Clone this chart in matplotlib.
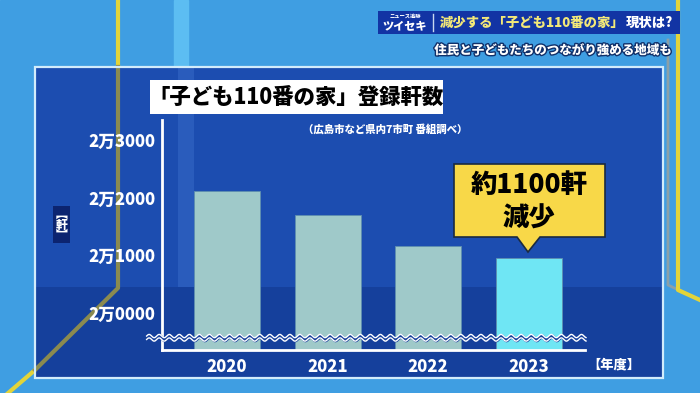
import numpy as np
import matplotlib
matplotlib.use("Agg")
import matplotlib.pyplot as plt
from matplotlib.patches import Rectangle, Polygon
import matplotlib.patheffects as pe

plt.rcParams['font.family'] = ['Noto Sans CJK JP', 'DejaVu Sans']
W = 900  # heaviest available weight

# data
years = ["2020", "2021", "2022", "2023"]
counts = [22120, 21700, 21170, 20960]
yticks = [20000, 21000, 22000, 23000]
ytick_labels = ["2万0000", "2万1000", "2万2000", "2万3000"]
bar_colors = ["#9fc9c9", "#9fc9c9", "#9fc9c9", "#6fe6f4"]

title = "「子ども110番の家」登録軒数"
source = "（広島市など県内7市町 番組調べ）"
callout_top = "約1100軒"
callout_bottom = "減少"
banner_main = "減少する「子ども110番の家」"
banner_tail = "現状は?"
banner_sub = "住民と子どもたちのつながり強める地域も"

fig = plt.figure(figsize=(7, 3.93), dpi=100)

# background in pixel coords
bg = fig.add_axes([0, 0, 1, 1])
bg.set_xlim(0, 700)
bg.set_ylim(393, 0)
bg.axis("off")
bg.add_patch(Rectangle((0, 0), 700, 393, color="#3f9ee2", zorder=0))
bg.add_patch(Rectangle((174, 0), 14, 67, color="#5cbdf2", zorder=1))
bg.plot([118, 118], [0, 67], color="#e2d43a", lw=3, zorder=2)
bg.plot([118, 118, 35, 0], [67, 288, 370, 400], color="#e2d43a", lw=3, zorder=1)
bg.plot([678, 678, 700], [0, 290, 300], color="#e2d43a", lw=3, zorder=2)
bg.plot([668, 668, 700], [40, 285, 300], color="#8aa0a8", lw=2, zorder=1)

# panel
bg.add_patch(Rectangle((35, 67), 628, 311, facecolor="#1c4db0", edgecolor="none", zorder=3))
bg.add_patch(Rectangle((35, 287), 628, 91, facecolor="#15409c", edgecolor="none", zorder=3))
bg.add_patch(Rectangle((178, 67), 16, 220, facecolor="#2a5cbc", edgecolor="none", zorder=3))
bg.plot([118, 118, 35], [67, 288, 370], color="#8a8a50", lw=3, zorder=4)
bg.add_patch(Rectangle((35, 67), 628, 311, facecolor="none", edgecolor="#d2ecfb", lw=1.6, zorder=5))

# title box
bg.add_patch(Rectangle((150, 80), 293, 34, facecolor="white", edgecolor="none", zorder=6))
bg.text(296, 98, title, ha="center", va="center", fontsize=15.4, fontweight=W, color="black", zorder=7)
bg.text(385, 129, source, ha="center", va="center", fontsize=7.5, fontweight=W, color="white", zorder=7)

# y unit label
bg.add_patch(Rectangle((53, 206), 17, 37, facecolor="#0c2470", edgecolor="none", zorder=6))
bg.text(61.5, 224.5, "︻\n軒\n︼", ha="center", va="center", fontsize=8.5, fontweight=W,
        color="white", linespacing=0.85, zorder=7)
bg.text(614, 364, "【年度】", ha="center", va="center", fontsize=9.5, fontweight=W, color="white", zorder=7)

# top banner
bg.add_patch(Rectangle((378, 11), 302, 23, facecolor="#1234a4", edgecolor="none", zorder=6))
bg.text(405, 16.5, "ニュース追跡", ha="center", va="center", fontsize=3.8, fontweight=W, color="white", zorder=7)
bg.text(405, 26, "ツイセキ", ha="center", va="center", fontsize=8, fontweight=W, color="white", zorder=7)
bg.plot([433, 433], [14, 31], color="#c8d8f0", lw=1, zorder=7)
t1 = bg.text(440, 23, banner_main, ha="left", va="center", fontsize=9.6, fontweight=W,
             color="#f3e878", zorder=7)
fig.canvas.draw()
bb = t1.get_window_extent().transformed(bg.transData.inverted())
bg.text(bb.x1 + 1, 23, banner_tail, ha="left", va="center", fontsize=9.6, fontweight=W,
        color="white", zorder=7)
bg.text(553, 50, banner_sub, ha="center", va="center", fontsize=9, fontweight=W, color="white",
        zorder=7, path_effects=[pe.withStroke(linewidth=2, foreground="#10306a")])

# callout
bg.add_patch(Polygon([(454, 164), (605, 164), (605, 237), (540, 237), (528, 252), (517, 237), (454, 237)],
                     closed=True, facecolor="#f8d848", edgecolor="#1a2a40", lw=1.2, zorder=8))
bg.text(529, 185, callout_top, ha="center", va="center", fontsize=19, fontweight=W, color="black", zorder=9)
bg.text(529, 218, callout_bottom, ha="center", va="center", fontsize=19, fontweight=W, color="black", zorder=9)

# chart axes
ax = fig.add_axes([162 / 700, 1 - 350 / 393, (585 - 162) / 700, (350 - 120) / 393])
ax.patch.set_alpha(0)
base = 19358
ax.set_ylim(base, 23347)
ax.set_xlim(-0.647, 3.56)
x = np.arange(len(years))
ax.bar(x, np.array(counts) - base, bottom=base, width=0.657, color=bar_colors,
       edgecolor="#5f8fb0", lw=0.6, zorder=2)
ax.set_yticks(yticks)
ax.set_yticklabels(ytick_labels)
ax.set_xticks(x)
ax.set_xticklabels(years)
ax.tick_params(length=0, colors="white", labelsize=12, pad=5)
ax.tick_params(axis="x", pad=6)
for lab in ax.get_xticklabels() + ax.get_yticklabels():
    lab.set_fontweight(W)
for s in ["top", "right"]:
    ax.spines[s].set_visible(False)
for s in ["left", "bottom"]:
    ax.spines[s].set_color("white")
    ax.spines[s].set_linewidth(2)

# wavy break line
wx = np.linspace(-0.8, 3.57, 800)
w = 28 * np.sin(wx * 2 * np.pi / 0.1)
ax.fill_between(wx, 19540 + w, 19600 + w, color="#15409c", zorder=3, clip_on=False)
ax.plot(wx, 19600 + w, color="white", lw=1, zorder=4, clip_on=False)
ax.plot(wx, 19540 + w, color="white", lw=1, zorder=4, clip_on=False)

fig.savefig("out.png", dpi=100)
